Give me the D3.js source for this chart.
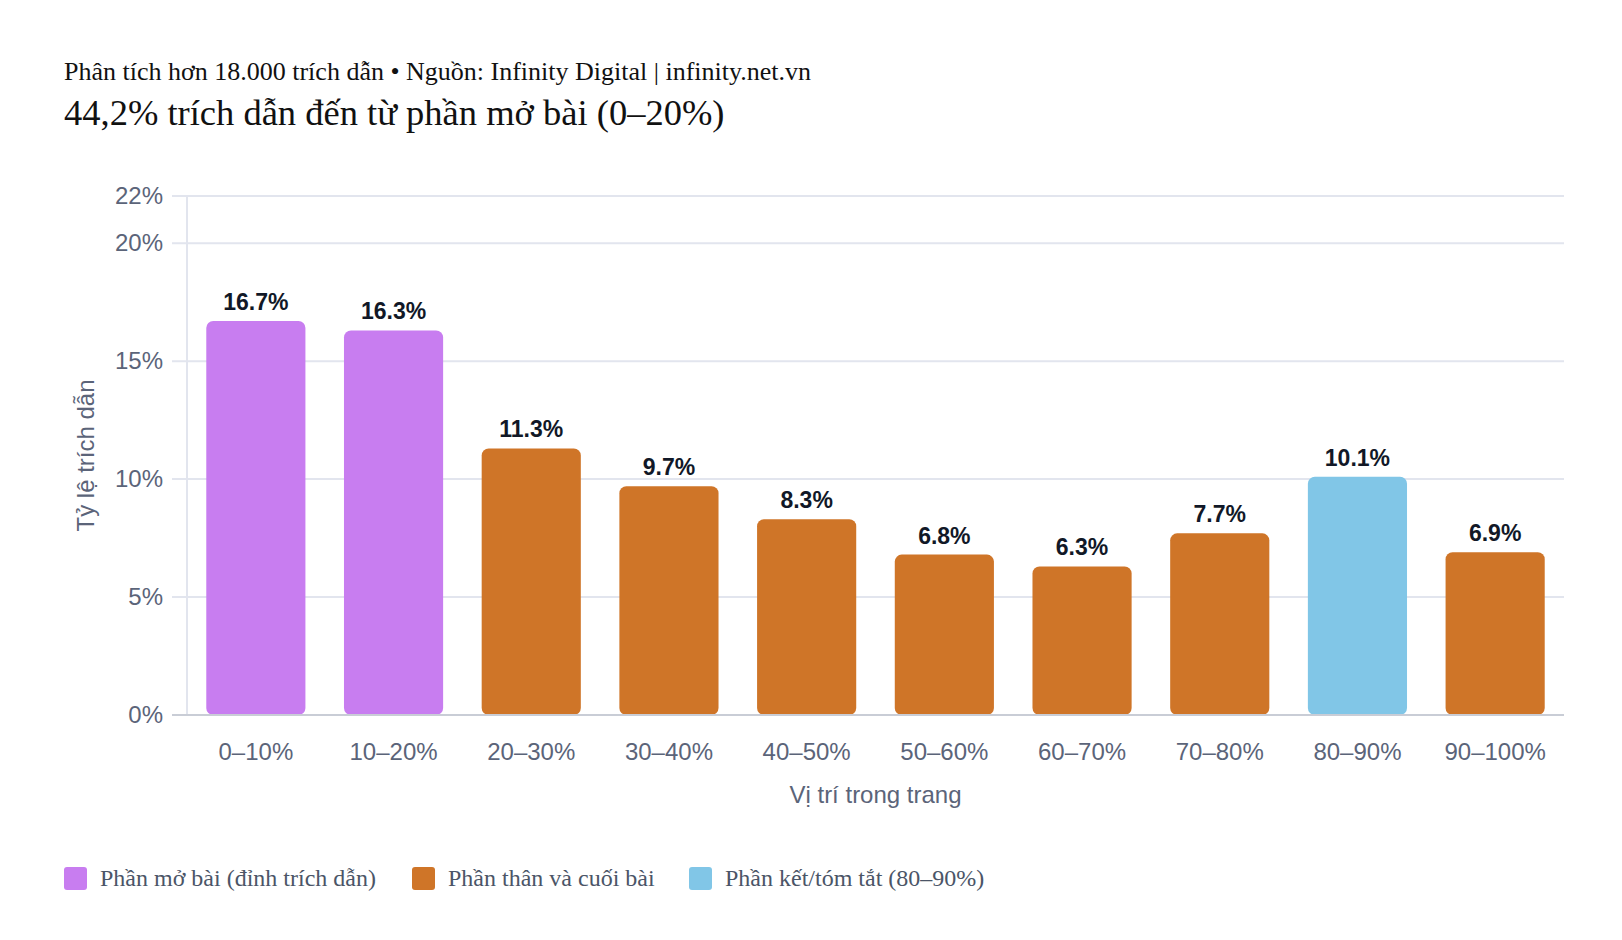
<!DOCTYPE html>
<html>
<head>
<meta charset="utf-8">
<script src="https://cdn.jsdelivr.net/npm/d3@7"></script>
<style>
  body { margin: 0; background: #fff; }
  svg text { font-family: "Liberation Sans", Arial, sans-serif; }
  .serif { font-family: "Liberation Serif", "Times New Roman", serif !important; }
</style>
</head>
<body>
<svg id="chart" width="1622" height="940"></svg>
<script>
// data
const categories = ["0–10%", "10–20%", "20–30%", "30–40%", "40–50%", "50–60%", "60–70%", "70–80%", "80–90%", "90–100%"];
const values = [16.7, 16.3, 11.3, 9.7, 8.3, 6.8, 6.3, 7.7, 10.1, 6.9];
const groups = ["open", "open", "body", "body", "body", "body", "body", "body", "close", "body"];
const yTicks = [0, 5, 10, 15, 20, 22];
const legendKeys = ["open", "body", "close"];
const legendLabels = ["Phần mở bài (đỉnh trích dẫn)", "Phần thân và cuối bài", "Phần kết/tóm tắt (80–90%)"];

const colors = { open: "#c87df0", body: "#cf7528", close: "#81c6e7" };

const width = 1622, height = 940;
const margin = { top: 196, right: 58, bottom: 225, left: 187 };
const innerW = width - margin.left - margin.right;
const innerH = height - margin.top - margin.bottom;

const svg = d3.select("#chart");

// titles
svg.append("text")
  .attr("class", "serif")
  .attr("x", 64).attr("y", 80)
  .style("font-size", "26px")
  .style("fill", "#111")
  .text("Phân tích hơn 18.000 trích dẫn • Nguồn: Infinity Digital | infinity.net.vn");

svg.append("text")
  .attr("class", "serif")
  .attr("x", 64).attr("y", 125)
  .style("font-size", "36.5px")
  .style("fill", "#111")
  .text("44,2% trích dẫn đến từ phần mở bài (0–20%)");

const g = svg.append("g")
  .attr("transform", `translate(${margin.left}, ${margin.top})`);

// scales
const x = d3.scaleBand()
  .domain(categories)
  .range([0, innerW])
  .paddingInner(0.28)
  .paddingOuter(0.14);

const y = d3.scaleLinear()
  .domain([0, 22])
  .range([innerH, 0]);

// gridlines
g.append("g")
  .selectAll("line")
  .data(yTicks.filter(d => d > 0))
  .join("line")
  .attr("x1", -15)
  .attr("x2", innerW)
  .attr("y1", d => y(d))
  .attr("y2", d => y(d))
  .style("stroke", "#e2e5ee")
  .style("stroke-width", 2);

// y axis line
g.append("line")
  .attr("x1", 0).attr("x2", 0)
  .attr("y1", 0).attr("y2", innerH)
  .style("stroke", "#e2e5ee")
  .style("stroke-width", 2);

// y axis
const yAxis = g.append("g")
  .call(d3.axisLeft(y).tickValues(yTicks).tickFormat(d => d + "%").tickSize(0).tickPadding(24));
yAxis.select(".domain").remove();
yAxis.selectAll("text")
  .style("font-size", "24px")
  .style("fill", "#5b6479");

// bars
g.selectAll(".bar")
  .data(values)
  .join("rect")
  .attr("class", "bar")
  .attr("x", (d, i) => x(categories[i]))
  .attr("y", d => y(d))
  .attr("width", x.bandwidth())
  .attr("height", d => innerH - y(d))
  .attr("rx", 7)
  .style("fill", (d, i) => colors[groups[i]]);

// baseline
g.append("line")
  .attr("x1", -15).attr("x2", innerW)
  .attr("y1", innerH).attr("y2", innerH)
  .style("stroke", "#c9cdd6")
  .style("stroke-width", 2);

// value labels
g.selectAll(".label")
  .data(values)
  .join("text")
  .attr("class", "label")
  .attr("x", (d, i) => x(categories[i]) + x.bandwidth() / 2)
  .attr("y", d => y(d) - 11)
  .attr("text-anchor", "middle")
  .style("font-size", "23px")
  .style("font-weight", "bold")
  .style("fill", "#111827")
  .text(d => d.toFixed(1) + "%");

// x axis
const xAxis = g.append("g")
  .attr("transform", `translate(0, ${innerH})`)
  .call(d3.axisBottom(x).tickSize(0).tickPadding(28));
xAxis.select(".domain").remove();
xAxis.selectAll("text")
  .style("font-size", "24px")
  .style("fill", "#5b6479");

// axis titles
g.append("text")
  .attr("x", innerW / 2)
  .attr("y", innerH + 88)
  .attr("text-anchor", "middle")
  .style("font-size", "24px")
  .style("fill", "#5b6479")
  .text("Vị trí trong trang");

g.append("text")
  .attr("transform", `translate(${-margin.left + 94}, ${innerH / 2}) rotate(-90)`)
  .attr("text-anchor", "middle")
  .style("font-size", "24px")
  .style("fill", "#5b6479")
  .text("Tỷ lệ trích dẫn");

// legend
const legendX = [64, 412, 689];
const legend = svg.append("g")
  .selectAll("g")
  .data(legendKeys)
  .join("g")
  .attr("transform", (d, i) => `translate(${legendX[i]}, 867)`);

legend.append("rect")
  .attr("width", 23).attr("height", 23)
  .attr("rx", 3)
  .style("fill", d => colors[d]);

legend.append("text")
  .attr("class", "serif")
  .attr("x", 36)
  .attr("y", 19)
  .style("font-size", "24px")
  .style("fill", "#4b5567")
  .text((d, i) => legendLabels[i]);
</script>
</body>
</html>
